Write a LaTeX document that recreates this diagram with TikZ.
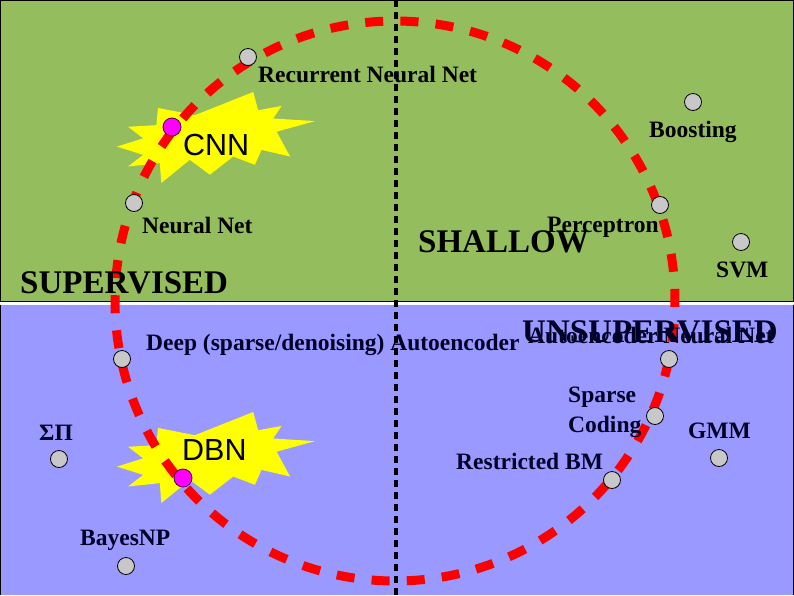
\documentclass[tikz,border=0pt]{standalone}
\usepackage{fontspec}
\setmainfont{Liberation Serif}
\newfontfamily\arialf{Liberation Sans}
\definecolor{bggreen}{RGB}{148,189,94}
\definecolor{bgblue}{RGB}{153,153,255}
\definecolor{dashred}{RGB}{255,0,0}
\definecolor{burstyellow}{RGB}{255,255,0}
\definecolor{dotgray}{RGB}{200,200,200}
\definecolor{dotmag}{RGB}{255,0,255}
\definecolor{navytext}{RGB}{0,0,40}
\tikzset{
  lbl/.style={font=\fontsize{23.5}{30}\selectfont\bfseries, inner sep=0pt, anchor=base west, text=black},
  lblb/.style={lbl, text=navytext},
  bigl/.style={font=\fontsize{33}{33}\selectfont\bfseries, inner sep=0pt, anchor=base west, text=black},
  bigb/.style={bigl, text=navytext},
  arl/.style={font=\arialf\fontsize{30.5}{30.5}\selectfont, inner sep=0pt, anchor=base west, text=black},
  gdot/.style={circle, fill=dotgray, draw=black, line width=0.8pt, minimum size=17pt, inner sep=0pt},
  mdot/.style={circle, fill=dotmag, draw=black!70!dotmag, line width=0.8pt, minimum size=18pt, inner sep=0pt},
  ring/.style={draw=dashred, line width=9pt, dash pattern=on 18pt off 17.186pt},
  divider/.style={draw=black, line width=3.5pt, dash pattern=on 7pt off 5pt},
  burst/.pic={
    \fill[burstyellow] (0.207,0.175) -- (0.393,0.255) -- (0.688,0) -- (0.713,0.2) -- (0.831,0.153)
      -- (0.789,0.291) -- (1,0.32) -- (0.806,0.436) -- (0.874,0.709) -- (0.730,0.636)
      -- (0.696,0.8) -- (0.587,0.709) -- (0.469,0.909) -- (0.368,0.745) -- (0.224,1)
      -- (0.216,0.782) -- (0.056,0.818) -- (0.132,0.691) -- (0,0.6) -- (0.132,0.509)
      -- (0.056,0.382) -- (0.199,0.364) -- cycle;
  }
}
\begin{document}
\begin{tikzpicture}[x=1pt,y=-1pt]
\useasboundingbox (0,0) rectangle (794,595);
% backgrounds
\fill[bggreen] (0,0) rectangle (794,301.5);
\draw[black, line width=1pt] (0.5,0.5) rectangle (793.5,301.5);
\fill[white] (0,302) rectangle (794,304.5);
\fill[bgblue] (0,304.5) rectangle (794,595);
\draw[black, line width=1pt] (0.5,304.5) -- (0.5,595) (793.5,304.5) -- (793.5,595);
% vertical divider
\coordinate (vtop) at (396,0);
\coordinate (vbot) at (396,595);
\draw[divider] (vtop) -- (vbot);
% bursts
\pic[xscale=198, yscale=91] (cnnb) at (117,92) {burst};
\pic[xscale=198, yscale=91] (dbnb) at (117,412) {burst};
% dashed ring
\coordinate (ctr) at (395,301);
\draw[ring] (ctr) ++(-88.87:280) arc[start angle=-88.87, delta angle=360, radius=280];
% labels
\node[lbl] (trnn) at (258,82) {Recurrent Neural Net};
\node[lbl] (tboost) at (649,137) {Boosting};
\node[lbl] (tnn) at (142,233) {Neural Net};
\node[lbl] (tperc) at (547,232) {Perceptron};
\node[bigl] (tshallow) at (418,252) {SHALLOW};
\node[lbl] (tsvm) at (716,277) {SVM};
\node[bigl] (tsup) at (20,293) {SUPERVISED};
\node[lblb] (tdeep) at (146,350) {Deep (sparse/denoising) Autoencoder};
\node[lblb] (taenn) at (528,343) {Autoencoder Neural Net};
\node[bigb] (tunsup) at (522,342) {UNSUPERVISED};
\node[lblb, anchor=north west, align=left] (tsparse) at (568,387) {Sparse\\Coding};
\node[lblb] (tgmm) at (688,438) {GMM};
\node[lblb] (trbm) at (456,469) {Restricted BM};
\node[lblb] (tsp) at (39,440) {ΣΠ};
\node[lblb] (tbayes) at (80,545) {BayesNP};
\node[arl] (tcnn) at (183,155) {CNN};
\node[arl] (tdbn) at (182,460) {DBN};
% dots
\node[gdot] (drnn) at (248,57) {};
\node[mdot] (dcnn) at (172,127) {};
\node[gdot] (dboost) at (693,102) {};
\node[gdot] (dnn) at (134,203) {};
\node[gdot] (dperc) at (660,205) {};
\node[gdot] (dsvm) at (741,242) {};
\node[gdot] (ddeep) at (122,359) {};
\node[gdot] (daenn) at (669,359) {};
\node[gdot] (dsparse) at (655,416) {};
\node[gdot] (dgmm) at (719,458) {};
\node[gdot] (drbm) at (612,480) {};
\node[gdot] (dsp) at (59,459) {};
\node[mdot] (ddbn) at (183,478) {};
\node[gdot] (dbayes) at (126,566) {};
\end{tikzpicture}
\end{document}
